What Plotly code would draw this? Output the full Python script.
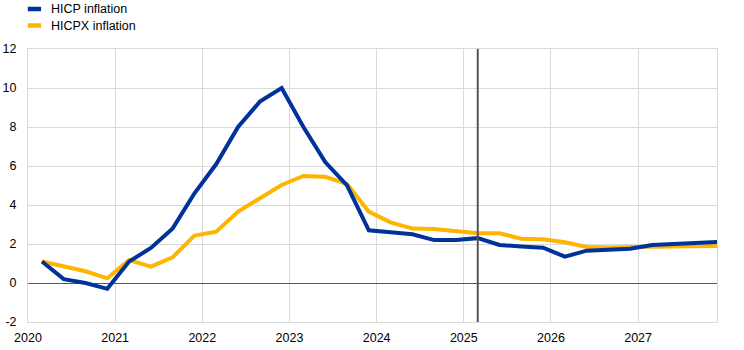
import plotly.graph_objects as go

# Quarterly observations and projections, 2020Q1 to 2027Q4 (annual % changes)
quarters = [f"{y}Q{q}" for y in range(2020, 2028) for q in range(1, 5)]

hicp = [1.1, 0.2, 0.0, -0.3,
        1.1, 1.8, 2.8, 4.6,
        6.1, 8.0, 9.3, 10.0,
        8.0, 6.2, 5.0, 2.7,
        2.6, 2.5, 2.2, 2.2,
        2.3, 1.95, 1.87, 1.81,
        1.35, 1.66, 1.7, 1.76,
        1.95, 2.0, 2.05, 2.1]

hicpx = [1.1, 0.85, 0.6, 0.24,
         1.18, 0.84, 1.32, 2.43,
         2.63, 3.66, 4.35, 5.03,
         5.49, 5.45, 5.08, 3.66,
         3.11, 2.79, 2.77, 2.67,
         2.55, 2.55, 2.27, 2.24,
         2.09, 1.85, 1.82, 1.85,
         1.86, 1.84, 1.86, 1.9]

series_names = ["HICP inflation", "HICPX inflation"]
series_colors = ["#003299", "#FFB400"]

year_ticks = list(range(2020, 2028))
y_ticks = list(range(-2, 13, 2))
projection_start = "2025Q1"


def quarter_pos(label):
    """Place a quarter on a fractional-year axis."""
    year, q = label.split("Q")
    return int(year) + (int(q) - 1) / 4 + 0.16


x = [quarter_pos(q) for q in quarters]

FONT = "Liberation Sans, Arial, sans-serif"

fig = go.Figure()
fig.add_trace(go.Scatter(x=x, y=hicpx, mode="lines", name=series_names[1],
                         line=dict(color=series_colors[1], width=4),
                         showlegend=False))
fig.add_trace(go.Scatter(x=x, y=hicp, mode="lines", name=series_names[0],
                         line=dict(color=series_colors[0], width=4),
                         showlegend=False))

# Start of the projection horizon
fig.add_shape(type="line", xref="x", yref="paper",
              x0=quarter_pos(projection_start), x1=quarter_pos(projection_start),
              y0=0, y1=1, line=dict(color="#555555", width=2), layer="above")

# Legend drawn as short line keys with labels above the plot area
for i, (name, color) in enumerate(zip(series_names, series_colors)):
    yc = 9 + i * 16.5
    yp = 1 + (49 - yc) / 273
    fig.add_shape(type="line", xref="paper", yref="paper",
                  x0=-0.0003, x1=0.019, y0=yp, y1=yp,
                  line=dict(color=color, width=4.5))
    fig.add_annotation(xref="paper", yref="paper", x=0.0305, y=yp,
                       xanchor="left", yanchor="middle", showarrow=False,
                       text=name, font=dict(family=FONT, size=12.5, color="#000000"))

fig.update_layout(
    width=744, height=350,
    margin=dict(l=28, r=27, t=49, b=28),
    paper_bgcolor="white", plot_bgcolor="white",
    font=dict(family=FONT, size=12.5, color="#000000"),
    showlegend=False,
)
fig.update_xaxes(
    range=[2020, 2027.905], tickmode="array", tickvals=year_ticks,
    ticktext=[str(v) for v in year_ticks], automargin=False,
    showgrid=True, gridcolor="#d9d9d9", gridwidth=1,
    showline=True, linecolor="#d9d9d9", linewidth=1, mirror=True,
    zeroline=False, ticks="outside", ticklen=4, tickcolor="rgba(0,0,0,0)",
)
fig.update_yaxes(
    range=[-2, 12], tickmode="array", tickvals=y_ticks,
    ticktext=[str(v) for v in y_ticks], automargin=False,
    showgrid=True, gridcolor="#d9d9d9", gridwidth=1,
    showline=True, linecolor="#d9d9d9", linewidth=1, mirror=True,
    zeroline=True, zerolinecolor="#595959", zerolinewidth=1,
    ticks="outside", ticklen=8, tickcolor="rgba(0,0,0,0)",
)

fig.write_html("out.html")
